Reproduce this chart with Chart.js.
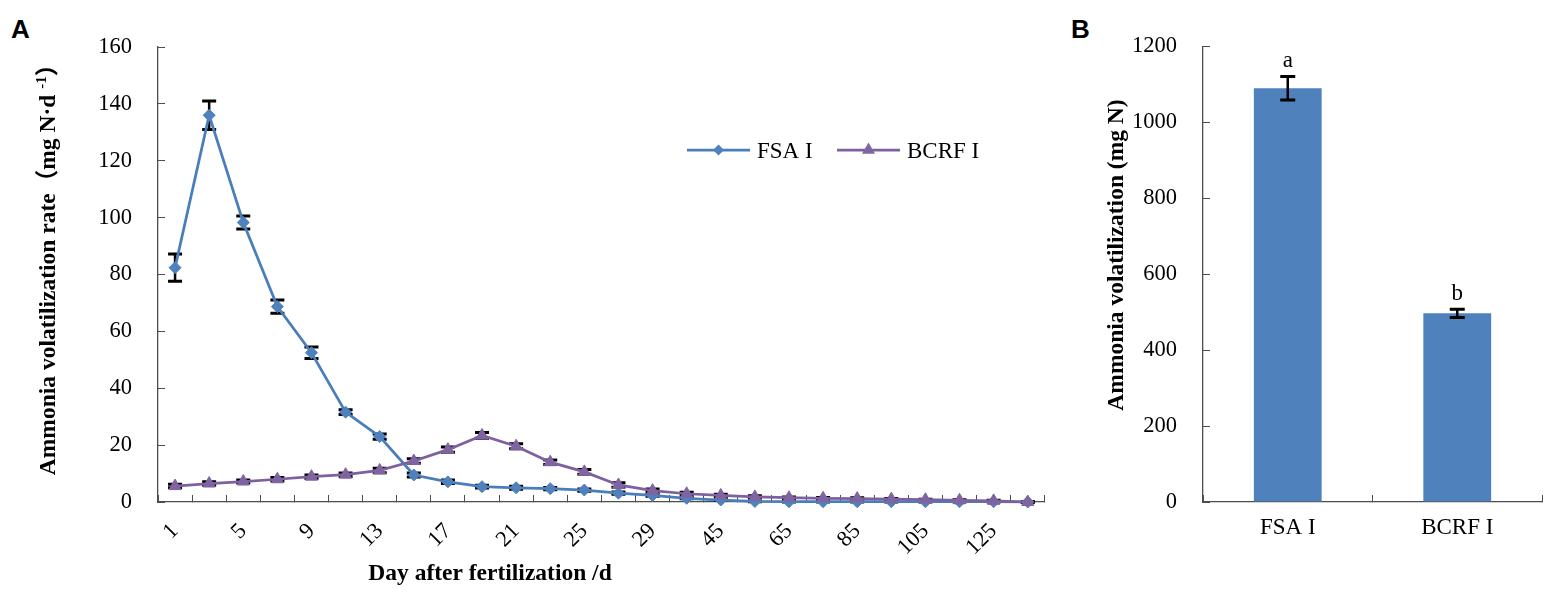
<!DOCTYPE html>
<html>
<head>
<meta charset="utf-8">
<script src="https://cdn.jsdelivr.net/npm/chart.js@4.4.1/dist/chart.umd.min.js"></script>
<style>
  html, body { margin: 0; padding: 0; background: #fff; }
  body { width: 1562px; height: 604px; position: relative; overflow: hidden; }
  .panel { position: absolute; top: 0; height: 604px; }
  .tag { position: absolute; font: bold 26px 'Liberation Sans', Arial, sans-serif; line-height: 26px; color: #000; }
</style>
</head>
<body>
<div class="tag" style="left:11px;top:16px">A</div>
<div class="tag" style="left:1071px;top:16px">B</div>
<div class="panel" style="left:0;width:1070px"><canvas id="rate-chart" width="1070" height="604"></canvas></div>
<div class="panel" style="left:1070px;width:492px"><canvas id="total-chart" width="492" height="604"></canvas></div>
<script>
// Panel A: daily ammonia volatilization rate (mg N d-1)
const dayLabels = ['1', '3', '5', '7', '9', '11', '13', '15', '17', '19', '21', '23', '25',
                   '27', '29', '35', '45', '55', '65', '75', '85', '95', '105', '115', '125', '135'];
const fsaRate = [82.4, 136.0, 98.3, 68.7, 52.5, 31.6, 23.0, 9.5, 7.1, 5.4, 5.0, 4.7, 4.2,
                 3.1, 2.3, 1.3, 0.7, 0.2, 0.1, 0.1, 0.1, 0.1, 0.1, 0.1, 0.1, 0.0];
const fsaErr = [4.8, 5.0, 2.3, 2.3, 2.0, 0.8, 0.9, 0.7, 0.6, 0.5, 0.5, 0.4, 0.4,
                0.4, 0.3, 0.2, 0.2, 0.1, 0.1, 0.1, 0.1, 0.1, 0.1, 0.1, 0.1, 0.1];
const bcrfRate = [5.6, 6.5, 7.2, 8.0, 8.9, 9.6, 11.1, 14.4, 18.4, 23.4, 19.6, 14.0, 10.6,
                  6.0, 4.0, 2.9, 2.3, 1.8, 1.5, 1.3, 1.2, 1.0, 0.8, 0.6, 0.4, 0.0];
const bcrfErr = [0.6, 0.6, 0.5, 0.6, 0.6, 0.6, 0.8, 0.8, 0.9, 1.0, 0.9, 0.8, 0.8,
                 0.8, 0.6, 0.5, 0.4, 0.4, 0.3, 0.3, 0.3, 0.2, 0.2, 0.2, 0.2, 0.1];

// Panel B: total ammonia volatilization (mg N)
const groups = ['FSA I', 'BCRF I'];
const totalN = [1090, 497];
const totalErr = [31, 11];
const sigLetters = ['a', 'b'];

const BLUE = '#4F81BD';
const BLUE_LINE = '#4A7EBB';
const PURPLE = '#8064A2';
const PURPLE_LINE = '#7D60A0';
const AXIS = '#4d4d4d';
const SERIF = 'Liberation Serif, Times New Roman, Noto Sans CJK SC, serif';

Chart.defaults.font.family = SERIF;
Chart.defaults.color = '#000';

function drawErrorBars(chart, cap) {
  const ctx = chart.ctx;
  const y = chart.scales.y;
  ctx.save();
  ctx.strokeStyle = '#000';
  chart.data.datasets.forEach((ds, di) => {
    if (!ds.errors) return;
    chart.getDatasetMeta(di).data.forEach((el, i) => {
      const top = y.getPixelForValue(ds.data[i] + ds.errors[i]);
      const bot = y.getPixelForValue(ds.data[i] - ds.errors[i]);
      ctx.lineWidth = 2.5;
      ctx.beginPath();
      ctx.moveTo(el.x, top);
      ctx.lineTo(el.x, bot);
      ctx.stroke();
      ctx.lineWidth = 3;
      ctx.beginPath();
      ctx.moveTo(el.x - cap, top); ctx.lineTo(el.x + cap, top);
      ctx.moveTo(el.x - cap, bot); ctx.lineTo(el.x + cap, bot);
      ctx.stroke();
    });
  });
  ctx.restore();
}

// text made of pieces (for the superscript), drawn centred on (x, baseline)
function drawRich(ctx, parts, x, baseline, rotation) {
  ctx.save();
  ctx.translate(x, baseline);
  ctx.rotate(rotation);
  ctx.fillStyle = '#000';
  ctx.textBaseline = 'alphabetic';
  let total = 0;
  parts.forEach(p => { ctx.font = p.font; p.w = ctx.measureText(p.text).width; total += p.w; });
  let cx = -total / 2;
  parts.forEach(p => {
    ctx.font = p.font;
    ctx.fillText(p.text, cx, -(p.rise || 0));
    cx += p.w;
  });
  ctx.restore();
}

function drawMarker(ctx, style, x, y, r, color) {
  ctx.fillStyle = color;
  ctx.beginPath();
  if (style === 'diamond') {
    ctx.moveTo(x, y - r); ctx.lineTo(x + r, y); ctx.lineTo(x, y + r); ctx.lineTo(x - r, y);
  } else {
    ctx.moveTo(x, y - r); ctx.lineTo(x + r * 0.866, y + r / 2); ctx.lineTo(x - r * 0.866, y + r / 2);
  }
  ctx.closePath();
  ctx.fill();
}

const TITLE = 'bold 23.5px ' + SERIF;

const rateChart = new Chart(document.getElementById('rate-chart'), {
  type: 'line',
  data: {
    labels: dayLabels,
    datasets: [{
      label: 'FSA I',
      data: fsaRate,
      errors: fsaErr,
      order: 1,
      borderColor: BLUE_LINE,
      borderWidth: 2.75,
      pointStyle: 'rectRot',
      pointRadius: 6,
      pointBackgroundColor: BLUE,
      pointBorderColor: BLUE,
      pointBorderWidth: 1,
      tension: 0,
      clip: false
    }, {
      label: 'BCRF I',
      data: bcrfRate,
      errors: bcrfErr,
      order: 0,
      borderColor: PURPLE_LINE,
      borderWidth: 2.75,
      pointStyle: 'triangle',
      pointRadius: 7,
      pointBackgroundColor: PURPLE,
      pointBorderColor: PURPLE,
      pointBorderWidth: 1,
      tension: 0,
      clip: false
    }]
  },
  options: {
    responsive: false,
    animation: false,
    layout: { padding: { top: 47, right: 9, left: 0, bottom: 0 } },
    plugins: { legend: { display: false }, tooltip: { enabled: false } },
    scales: {
      x: {
        offset: true,
        ticks: {
          autoSkip: false,
          minRotation: 45,
          maxRotation: 45,
          padding: 23,
          color: '#000',
          font: { family: SERIF, size: 22.5 },
          callback: (v, i) => (i % 2 === 0 ? dayLabels[i] : '')
        },
        grid: { offset: true, drawOnChartArea: false, tickLength: -7, color: AXIS, lineWidth: 1 },
        border: { color: AXIS, width: 1.3 },
        afterFit: s => { s.height = 102; }
      },
      y: {
        min: 0,
        max: 160,
        ticks: { stepSize: 20, padding: 33, color: '#000', font: { family: SERIF, size: 22.5 }, callback: v => String(v) },
        grid: { drawOnChartArea: false, tickLength: -7, color: AXIS, lineWidth: 1 },
        border: { color: AXIS, width: 1.3 },
        afterFit: s => { s.width = 158; }
      }
    }
  },
  plugins: [{
    id: 'rateExtras',
    beforeDatasetsDraw(chart) { drawErrorBars(chart, 7); },
    afterDraw(chart) {
      const ctx = chart.ctx;
      const a = chart.chartArea;
      // legend inside the plot
      const ly = a.top + 103;
      const items = [
        { x: a.left + 529, text: 'FSA I', line: BLUE_LINE, color: BLUE, style: 'diamond', r: 5.5 },
        { x: a.left + 679, text: 'BCRF I', line: PURPLE_LINE, color: PURPLE, style: 'triangle', r: 7.5 }
      ];
      items.forEach(it => {
        ctx.save();
        ctx.strokeStyle = it.line;
        ctx.lineWidth = 2.75;
        ctx.beginPath();
        ctx.moveTo(it.x, ly);
        ctx.lineTo(it.x + 63, ly);
        ctx.stroke();
        drawMarker(ctx, it.style, it.x + 31.5, ly, it.r, it.color);
        ctx.fillStyle = '#000';
        ctx.font = '23px ' + SERIF;
        ctx.textBaseline = 'alphabetic';
        ctx.fillText(it.text, it.x + 70, ly + 8);
        ctx.restore();
      });
      // axis titles
      drawRich(ctx, [{ text: 'Day after fertilization /d', font: TITLE }],
        a.left + 332, a.bottom + 78, 0);
      drawRich(ctx, [
        { text: 'Ammonia volatilization rate\uFF08mg N\u00B7d ', font: TITLE },
        { text: '-1', font: 'bold 15px ' + SERIF, rise: 9 },
        { text: '\uFF09', font: TITLE }
      ], 55, 264, -Math.PI / 2);
    }
  }]
});

const totalChart = new Chart(document.getElementById('total-chart'), {
  type: 'bar',
  data: {
    labels: groups,
    datasets: [{
      data: totalN,
      errors: totalErr,
      backgroundColor: BLUE,
      barPercentage: 0.4,
      categoryPercentage: 1
    }]
  },
  options: {
    responsive: false,
    animation: false,
    layout: { padding: { top: 45, right: 20, left: 0, bottom: 0 } },
    plugins: { legend: { display: false }, tooltip: { enabled: false } },
    scales: {
      x: {
        ticks: { padding: 19, color: '#000', font: { family: SERIF, size: 23 } },
        grid: { offset: true, drawOnChartArea: false, tickLength: -7, color: AXIS, lineWidth: 1 },
        border: { color: AXIS, width: 1.3 },
        afterFit: s => { s.height = 102; }
      },
      y: {
        min: 0,
        max: 1200,
        ticks: { stepSize: 200, padding: 33, color: '#000', font: { family: SERIF, size: 22.5 }, callback: v => String(v) },
        grid: { drawOnChartArea: false, tickLength: -7, color: AXIS, lineWidth: 1 },
        border: { color: AXIS, width: 1.3 },
        afterFit: s => { s.width = 133; }
      }
    }
  },
  plugins: [{
    id: 'totalExtras',
    afterDatasetsDraw(chart) {
      drawErrorBars(chart, 7.5);
      const ctx = chart.ctx;
      const y = chart.scales.y;
      ctx.save();
      ctx.fillStyle = '#000';
      ctx.font = '23px ' + SERIF;
      ctx.textAlign = 'center';
      ctx.textBaseline = 'alphabetic';
      chart.getDatasetMeta(0).data.forEach((el, i) => {
        ctx.fillText(sigLetters[i], el.x, y.getPixelForValue(totalN[i] + totalErr[i]) - 9);
      });
      ctx.restore();
    },
    afterDraw(chart) {
      drawRich(chart.ctx, [{ text: 'Ammonia volatilization (mg N)', font: TITLE }],
        53, 255, -Math.PI / 2);
    }
  }]
});
</script>
</body>
</html>
